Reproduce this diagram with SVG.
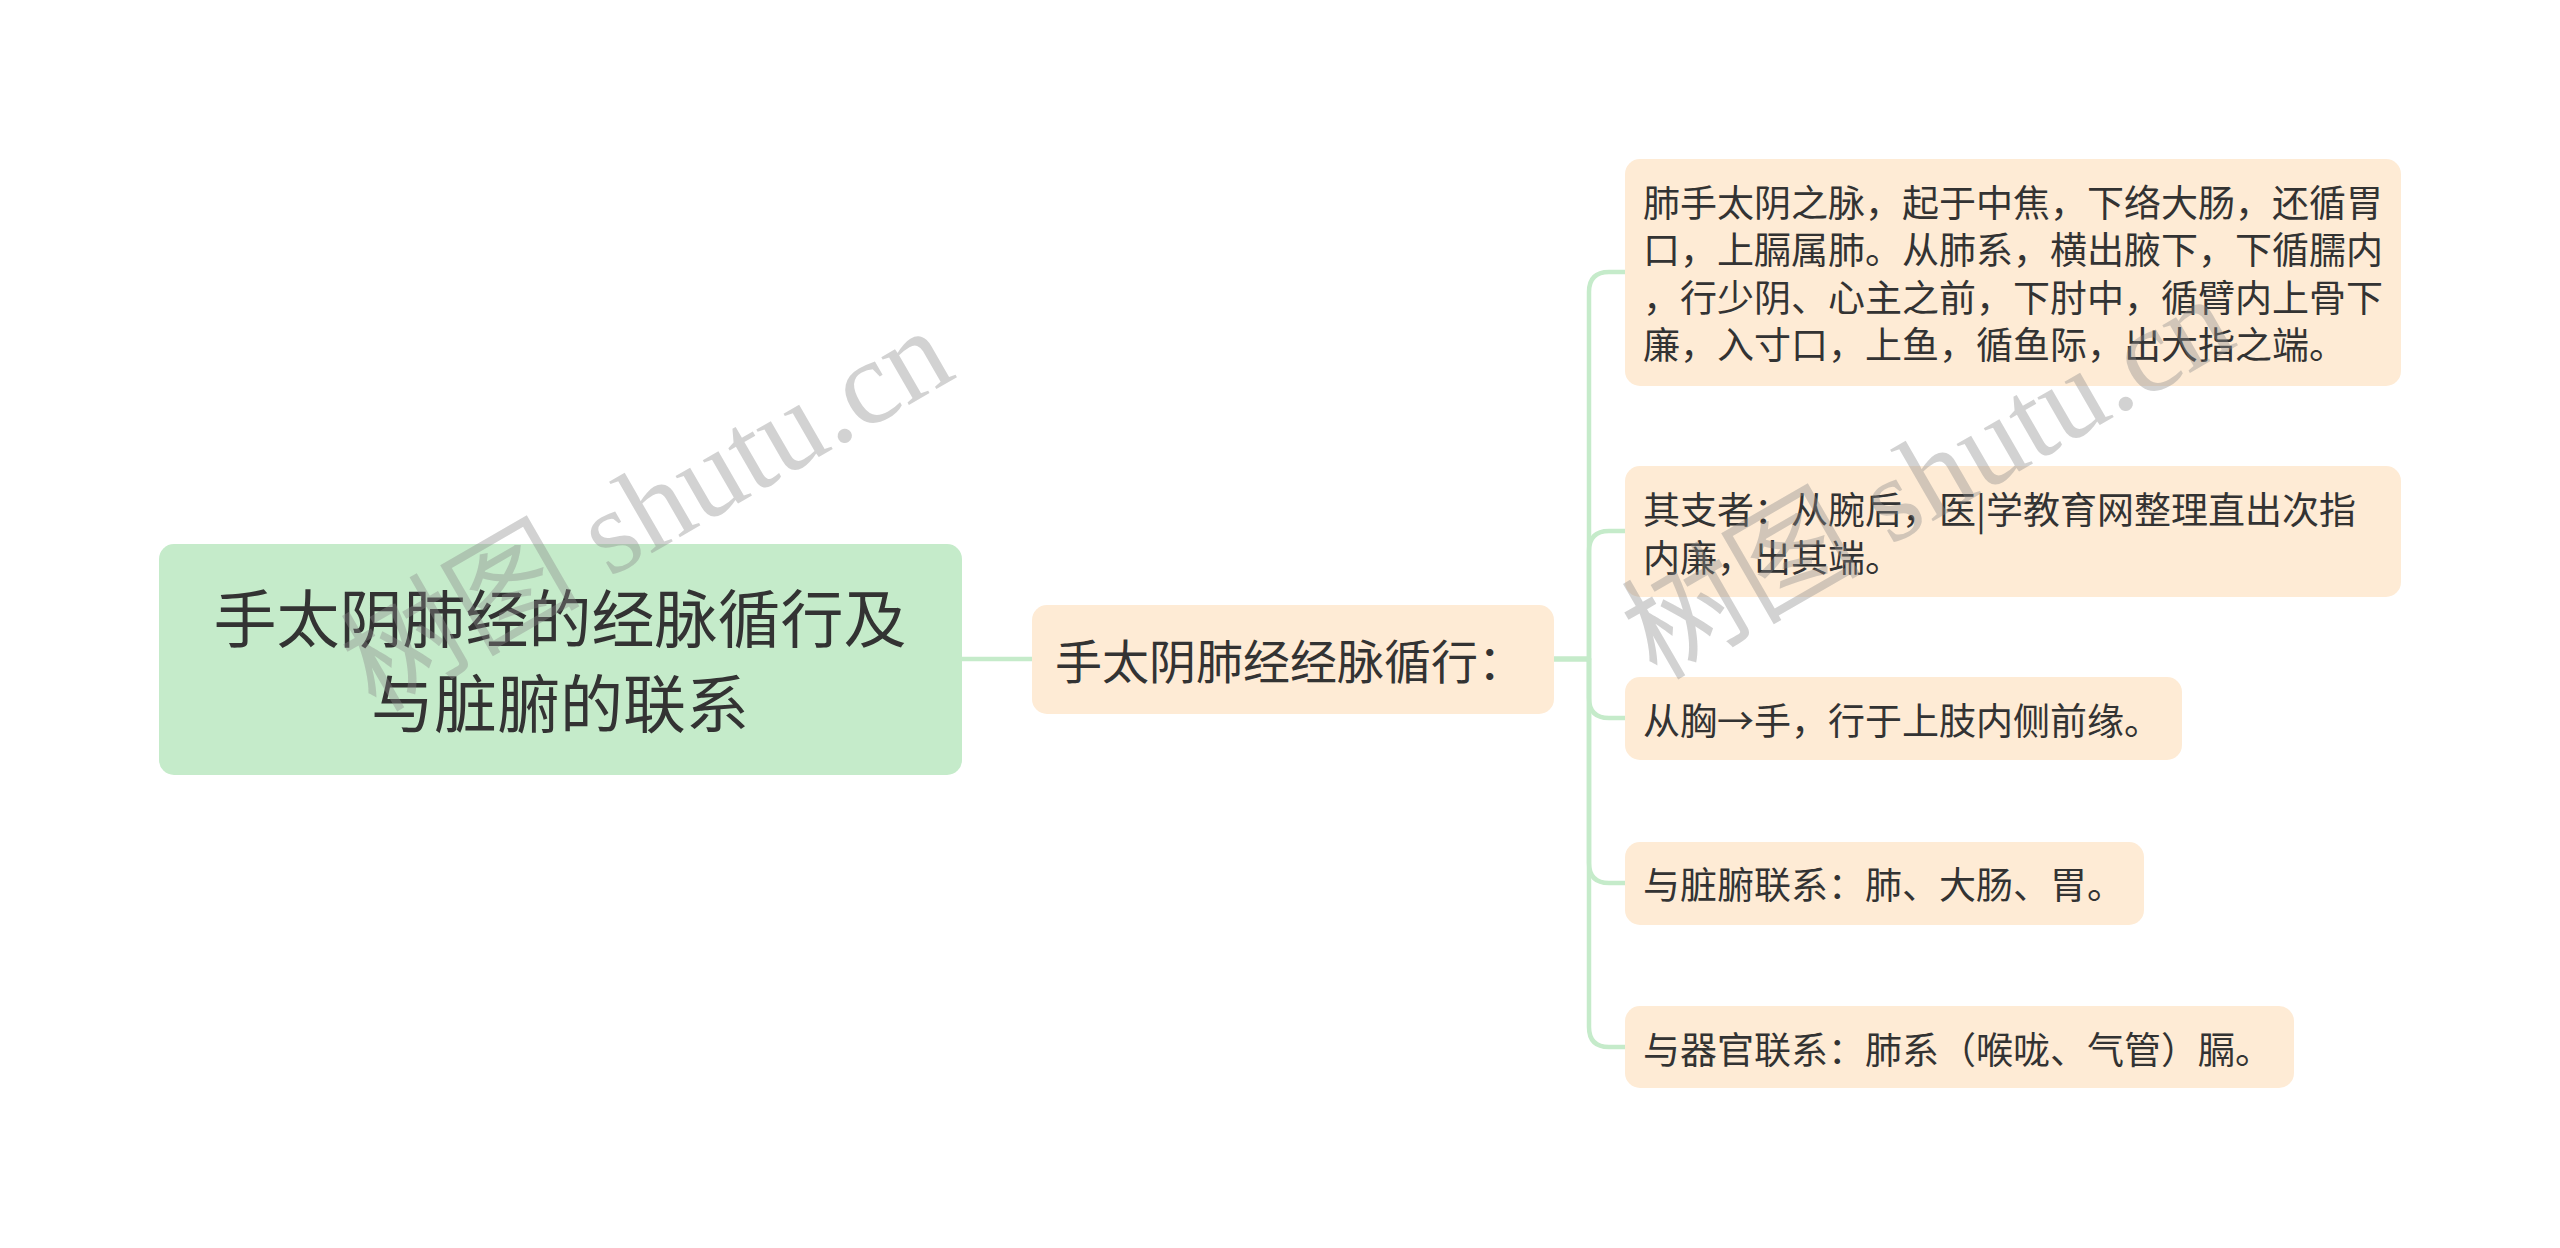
<svg xmlns="http://www.w3.org/2000/svg" width="2560" height="1248" viewBox="0 0 2560 1248">
<style>
.root{fill:#c5ebca}
.leaf{fill:#feebd5}
.t{font-family:"Noto Sans CJK SC","Noto Sans",sans-serif;fill:#333333}
.conn{fill:none;stroke:#c5ebca;stroke-width:4.5;stroke-linecap:round;stroke-linejoin:round}
.wm{font-family:"Liberation Serif","Noto Sans CJK SC",serif;fill:#8a8a8a;fill-opacity:0.38;font-size:120px}
</style>
<rect width="2560" height="1248" fill="#ffffff"/>
<g id="connectors">
<path class="conn" d="M962 659 H1032"/>
<path class="conn" d="M1554 659 H1589 V292 Q1589 272 1609 272 H1625"/>
<path class="conn" d="M1554 659 H1589 V551 Q1589 531 1609 531 H1625"/>
<path class="conn" d="M1554 659 H1589 V698 Q1589 718 1609 718 H1625"/>
<path class="conn" d="M1554 659 H1589 V863 Q1589 883 1609 883 H1625"/>
<path class="conn" d="M1554 659 H1589 V1027 Q1589 1047 1609 1047 H1625"/>
</g>
<g id="node-root">
<rect class="root" x="159" y="544" width="803" height="231" rx="15"/>
<text class="t" font-size="63" text-anchor="middle" x="560" y="642">手太阴肺经的经脉循行及</text>
<text class="t" font-size="63" text-anchor="middle" x="560" y="727">与脏腑的联系</text>
</g>
<g id="node-main">
<rect class="leaf" x="1032" y="605" width="522" height="109" rx="15"/>
<text class="t" font-size="47" x="1055" y="679">手太阴肺经经脉循行：</text>
</g>
<g id="node-1">
<rect class="leaf" x="1625" y="159" width="776" height="227" rx="15"/>
<text class="t" font-size="37" x="1643" y="217">肺手太阴之脉，起于中焦，下络大肠，还循胃</text>
<text class="t" font-size="37" x="1643" y="264">口，上膈属肺。从肺系，横出腋下，下循臑内</text>
<text class="t" font-size="37" x="1643" y="312">，行少阴、心主之前，下肘中，循臂内上骨下</text>
<text class="t" font-size="37" x="1643" y="359">廉，入寸口，上鱼，循鱼际，出大指之端。</text>
</g>
<g id="node-2">
<rect class="leaf" x="1625" y="466" width="776" height="131" rx="15"/>
<text class="t" font-size="37" x="1643" y="524">其支者：从腕后，医|学教育网整理直出次指</text>
<text class="t" font-size="37" x="1643" y="572">内廉，出其端。</text>
</g>
<g id="node-3">
<rect class="leaf" x="1625" y="677" width="557" height="83" rx="15"/>
<text class="t" font-size="37" x="1643" y="735">从胸→手，行于上肢内侧前缘。</text>
</g>
<g id="node-4">
<rect class="leaf" x="1625" y="842" width="519" height="83" rx="15"/>
<text class="t" font-size="37" x="1643" y="899">与脏腑联系：肺、大肠、胃。</text>
</g>
<g id="node-5">
<rect class="leaf" x="1625" y="1006" width="669" height="82" rx="15"/>
<text class="t" font-size="37" x="1643" y="1064">与器官联系：肺系（喉咙、气管）膈。</text>
</g>
<g id="watermarks">
<text class="wm" text-anchor="middle" transform="translate(647,510) rotate(-30)" x="0" y="40">树图 shutu.cn</text>
<text class="wm" text-anchor="middle" transform="translate(1928,478) rotate(-30)" x="0" y="40">树图 shutu.cn</text>
</g>
</svg>
